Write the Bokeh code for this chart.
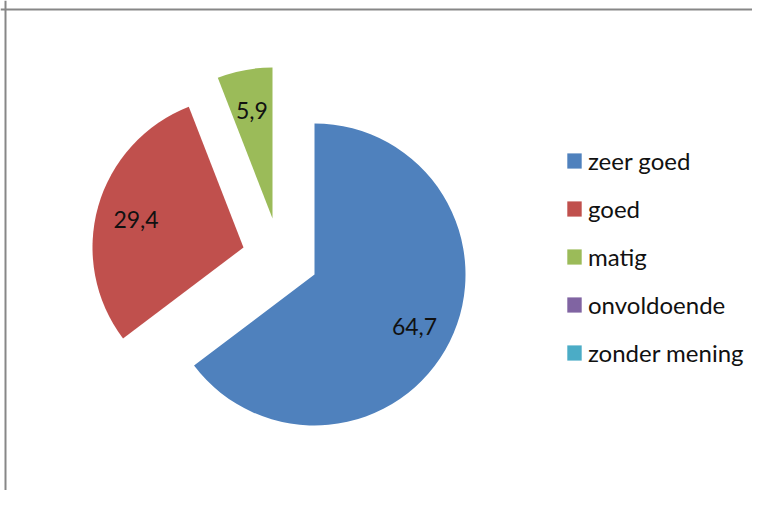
import math
from bokeh.plotting import figure
from bokeh.models import ColumnDataSource, Range1d, Legend, LegendItem, Span
from bokeh.core.properties import value
from bokeh.embed import file_html
from bokeh.resources import INLINE

# ---- data ----
categories = ["zeer goed", "goed", "matig", "onvoldoende", "zonder mening"]
values = [64.7, 29.4, 5.9, 0.0, 0.0]
value_labels = ["64,7", "29,4", "5,9", "", ""]
colors = ["#4F81BD", "#C0504D", "#9BBB59", "#8064A2", "#4BACC6"]

# ---- layout / style ----
W, H = 752, 490
CX, CY = 314, 216          # pie centre (pixel data units, y up)
R = 151
EXPLODE = {"goed": (-71, 27), "matig": (-42, 56)}   # slice offsets
LABEL_FRAC = 0.74
FONT = "Lato"

total = sum(values)
xs, ys, starts, ends, radii, lx, ly = [], [], [], [], [], [], []
cum = 0.0
for cat, v in zip(categories, values):
    c0 = cum / total * 2 * math.pi
    cum += v
    c1 = cum / total * 2 * math.pi
    dx, dy = EXPLODE.get(cat, (0, 0))
    x0, y0 = CX + dx, CY + dy
    xs.append(x0)
    ys.append(y0)
    starts.append(math.pi / 2 - c1)
    ends.append(math.pi / 2 - c0)
    radii.append(R if v > 0 else 0)
    mid = (c0 + c1) / 2
    lx.append(x0 + LABEL_FRAC * R * math.sin(mid))
    ly.append(y0 + LABEL_FRAC * R * math.cos(mid) - 2)

p = figure(width=W, height=H, output_backend="svg", toolbar_location=None,
           x_range=Range1d(0, W), y_range=Range1d(0, H),
           x_axis_location=None, y_axis_location=None, min_border=0)
p.grid.visible = False
p.outline_line_color = None
p.background_fill_color = "white"

items = []
for i, cat in enumerate(categories):
    src = ColumnDataSource(dict(x=[xs[i]], y=[ys[i]], s=[starts[i]], e=[ends[i]], r=[radii[i]]))
    rr = p.wedge(x="x", y="y", radius="r", start_angle="s", end_angle="e",
                 source=src, fill_color=colors[i], line_color=None)
    items.append(LegendItem(label=cat, renderers=[rr]))

lab_src = ColumnDataSource(dict(x=lx, y=ly, t=value_labels))
p.text(x="x", y="y", text="t", source=lab_src, text_align="center",
       text_baseline="middle", text_font=value(FONT), text_font_size="23px",
       text_color="#111111")

legend = Legend(items=items, location=(565, 123), orientation="vertical",
                glyph_width=18, glyph_height=19, label_height=30, spacing=18,
                label_standoff=5, padding=0, margin=0,
                border_line_color=None, background_fill_alpha=0,
                label_text_font=FONT, label_text_font_size="24px",
                label_text_color="#111111")
p.add_layout(legend, "center")

p.add_layout(Span(location=H - 9, dimension="width", line_color="#878787", line_width=2))
p.add_layout(Span(location=5, dimension="height", line_color="#878787", line_width=2))

open("out.html", "w").write(file_html(p, INLINE))
